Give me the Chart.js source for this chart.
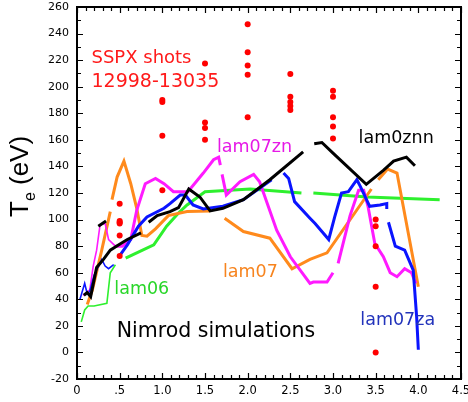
<!DOCTYPE html>
<html>
<head>
<meta charset="utf-8">
<script src="https://cdn.jsdelivr.net/npm/chart.js@4/dist/chart.umd.min.js"></script>
<style>
  html, body { margin: 0; padding: 0; background: #fff; }
  #wrap { width: 468px; height: 402px; }
</style>
</head>
<body>
<div id="wrap"><canvas id="chart" width="468" height="402"></canvas></div>
<script>
// Ticks de los ejes
const xTickLabels = ['0', '.5', '1.0', '1.5', '2.0', '2.5', '3.0', '3.5', '4.0', '4.5'];
const yMin = -20, yMax = 260;

// Disparos SSPX (puntos rojos)
const shotX = [0.5, 0.5, 0.5, 0.5, 0.5, 0.5,
               1.0, 1.0, 1.0, 1.0,
               1.5, 1.5, 1.5, 1.5,
               2.0, 2.0, 2.0, 2.0, 2.0,
               2.5, 2.5, 2.5, 2.5, 2.5,
               3.0, 3.0, 3.0, 3.0, 3.0,
               3.5, 3.5, 3.5, 3.5, 3.5];
const shotY = [112, 99, 98, 97, 88, 72.5,
               190, 188.5, 163, 122,
               217.5, 173, 169, 160,
               247, 226, 216, 209, 177,
               209.5, 192.5, 188.5, 185.5, 182.5,
               197, 192.5, 177, 170, 161,
               100, 95, 80, 49.5, 0];

// Simulaciones Nimrod (null = hueco en la curva)
const lam0znnX = [0.25, 0.34, null,
  0.08, 0.12, 0.16, 0.23, 0.31, 0.39, 0.49, 0.59, 0.75, null,
  0.84, 0.94, 1.09, 1.19, 1.31, 1.44, 1.56, 1.71, 1.95, 2.26, 2.65, null,
  2.78, 2.87, 3.0, 3.39, 3.59, 3.71, 3.86, 3.96];
const lam0znnY = [95, 99, null,
  43, 45, 42, 64, 70, 77, 81, 85, 90, null,
  98, 103, 106, 109, 123, 117, 106.5, 108.5, 115, 130, 151, null,
  157, 158, 150, 126.5, 137, 144, 147, 140.5];

const lam07X = [0.12, 0.18, 0.29, 0.39, null,
  0.41, 0.47, 0.55, 0.63, 0.70, 0.76, 0.82, 0.92, 1.07, 1.29, 1.56, null,
  1.73, 1.95, 2.26, 2.52, 2.73, 2.93, 3.45, null,
  3.53, 3.64, 3.75, 4.0];
const lam07Y = [36, 47, 77, 106, null,
  115, 132, 144, 127, 108.5, 88, 87.5, 93, 103, 106, 106.5, null,
  101, 91, 86, 63, 70, 75, 123, null,
  130, 138, 135, 49.5];

const lam07znX = [0.07, 0.15, 0.19, 0.23, 0.27, 0.33, 0.37, 0.45, 0.53, 0.63, 0.70, 0.80, 0.92, 1.02, 1.13, 1.30, 1.48, 1.60, 1.66, 1.68, null,
  1.70, 1.75, 1.91, 2.07, 2.14, 2.34, 2.50, 2.73, 2.77, 2.93, 3.0, null,
  3.06, 3.2, 3.30, 3.36, 3.41, 3.49, 3.59, 3.67, 3.75, 3.84, 3.92, 3.97];
const lam07znY = [43, 47, 65, 77, 96, 97, 85, 80, 80, 85, 107, 127, 131, 127, 121, 121, 135, 145, 147, 141, null,
  134, 118.5, 128.5, 134, 128.5, 92, 72, 52, 53, 53, 60, null,
  67, 103, 122, 122, 110, 82, 72, 60, 57, 63, 60, 52];

const lam07zaX = [0.035, 0.09, 0.12, 0.15, 0.2, 0.29, 0.33, 0.37, 0.43, null,
  0.49, 0.59, 0.72, 0.82, 1.02, 1.09, 1.21, 1.27, 1.36, 1.48, 1.71, 1.95, 2.14, 2.28, null,
  2.42, 2.48, 2.55, 2.73, 2.79, 2.95, 3.02, 3.10, 3.18, 3.28, 3.32, 3.43, 3.55, 3.63, 3.63, null,
  3.65, 3.73, 3.84, 3.94, 3.98, 4.0];
const lam07zaY = [40, 52, 44, 46, 58, 70, 65, 63, 66, null,
  72, 81, 95, 102, 108.5, 112, 118.5, 118.5, 111, 108, 110, 115, 123.5, 130, null,
  135, 131, 113.5, 101, 97, 85, 102, 120, 121, 130, 125, 110, 111, 112, 108, null,
  98, 80, 77, 62, 27, 2];

const lam06X = [0.05, 0.09, 0.13, 0.2, 0.35, 0.39, 0.45, null,
  0.57, 0.70, 0.90, 1.05, 1.19, 1.29, 1.50, 2.03, 2.63, null,
  2.77, 3.40, 4.25];
const lam06Y = [23, 32, 35, 35, 37, 60, 66, null,
  71, 75, 81, 95, 105, 111, 121, 123, 120, null,
  120, 117, 115];

// Juntar arrays x / y en puntos para Chart.js
function toPoints(xs, ys) {
  return xs.map((x, i) => ({ x: x === null ? xs[i - 1] : x, y: ys[i] }));
}

// Curva de simulación
function simLine(label, xs, ys, color, thinStart) {
  return {
    type: 'line',
    label: label,
    data: toPoints(xs, ys),
    borderColor: color,
    borderWidth: 3,
    pointRadius: 0,
    tension: 0,
    spanGaps: false,
    segment: thinStart ? { borderWidth: c => c.p0.parsed.x < 0.44 && c.p1.parsed.x < 0.46 ? 1.6 : 3 } : undefined
  };
}

// Marco con ticks hacia adentro + textos
const framePlugin = {
  id: 'frame',
  afterDatasetsDraw(chart) {
    const { ctx, chartArea: { left, top, right, bottom }, scales: { x, y } } = chart;
    ctx.save();
    ctx.strokeStyle = '#000';
    ctx.lineWidth = 1.2;
    ctx.beginPath();
    for (let i = 0; i <= 45; i++) {
      const px = Math.round(x.getPixelForValue(i / 10)) + 0.5;
      const len = i % 5 === 0 ? 6 : 4;
      ctx.moveTo(px, bottom); ctx.lineTo(px, bottom - len);
      ctx.moveTo(px, top); ctx.lineTo(px, top + len);
    }
    for (let v = yMin; v <= yMax; v += 10) {
      const py = Math.round(y.getPixelForValue(v)) + 0.5;
      const len = v % 20 === 0 ? 6 : 4;
      ctx.moveTo(left, py); ctx.lineTo(left + len, py);
      ctx.moveTo(right, py); ctx.lineTo(right - len, py);
    }
    ctx.stroke();
    ctx.lineWidth = 2;
    ctx.strokeRect(left, top, right - left, bottom - top);

    const notes = [
      ['SSPX shots', 0.17, 217.6, '#ff1a1a', 18],
      ['12998-13035', 0.17, 199.5, '#ff1a1a', 19],
      ['lam07zn', 1.64, 151, '#e619e6', 17.5],
      ['lam0znn', 3.30, 157.4, '#000000', 17.5],
      ['lam07', 1.71, 57, '#f7841e', 17.5],
      ['lam06', 0.437, 44, '#29d629', 17.5],
      ['Nimrod simulations', 0.465, 11.8, '#000000', 20.5],
      ['lam07za', 3.32, 20.7, '#2233bb', 17.5]
    ];
    ctx.textAlign = 'left';
    ctx.textBaseline = 'alphabetic';
    notes.forEach(([t, vx, vy, color, size]) => {
      ctx.fillStyle = color;
      ctx.font = size + 'px "DejaVu Sans"';
      ctx.fillText(t, x.getPixelForValue(vx), y.getPixelForValue(vy));
    });
    ctx.restore();
  },
  afterDraw(chart) {
    // Título del eje Y: T con subíndice e
    const ctx = chart.ctx;
    ctx.save();
    ctx.translate(28, 217);
    ctx.rotate(-Math.PI / 2);
    ctx.fillStyle = '#000';
    ctx.textBaseline = 'alphabetic';
    ctx.textAlign = 'left';
    ctx.font = '26px "Liberation Sans"';
    ctx.fillText('T', 0, 0);
    let w = ctx.measureText('T').width;
    ctx.font = '16px "Liberation Sans"';
    ctx.fillText('e', w, 7);
    w += ctx.measureText('e').width;
    ctx.font = '26px "Liberation Sans"';
    ctx.fillText(' (eV)', w, 0);
    ctx.restore();
  }
};

new Chart(document.getElementById('chart').getContext('2d'), {
  data: {
    datasets: [
      {
        type: 'scatter',
        label: 'SSPX shots',
        data: toPoints(shotX, shotY),
        backgroundColor: '#ff0000',
        borderWidth: 0,
        pointRadius: 3
      },
      simLine('lam0znn', lam0znnX, lam0znnY, '#000000', false),
      simLine('lam07za', lam07zaX, lam07zaY, '#0a14ff', true),
      simLine('lam07zn', lam07znX, lam07znY, '#ff1aff', true),
      simLine('lam07', lam07X, lam07Y, '#ff8a1c', false),
      simLine('lam06', lam06X, lam06Y, '#2ef02e', true)
    ]
  },
  options: {
    responsive: false,
    animation: false,
    layout: { padding: { left: 0, right: 7, top: 7, bottom: 0 } },
    plugins: {
      legend: { display: false },
      tooltip: { enabled: false }
    },
    scales: {
      x: {
        type: 'linear',
        min: 0,
        max: 4.5,
        grid: { display: false, drawTicks: false },
        border: { display: false },
        ticks: {
          stepSize: 0.5,
          padding: 5,
          color: '#000',
          font: { family: 'DejaVu Sans', size: 11.5 },
          maxRotation: 0,
          callback: (v, i) => xTickLabels[i]
        },
        afterFit: s => { s.height = 23; s.paddingLeft = 0; s.paddingRight = 0; }
      },
      y: {
        type: 'linear',
        min: yMin,
        max: yMax,
        grid: { display: false, drawTicks: false },
        border: { display: false },
        ticks: {
          stepSize: 20,
          padding: 8,
          color: '#000',
          font: { family: 'DejaVu Sans', size: 11 }
        },
        afterFit: s => { s.width = 77; s.paddingTop = 0; s.paddingBottom = 0; }
      }
    }
  },
  plugins: [framePlugin]
});
</script>
</body>
</html>
